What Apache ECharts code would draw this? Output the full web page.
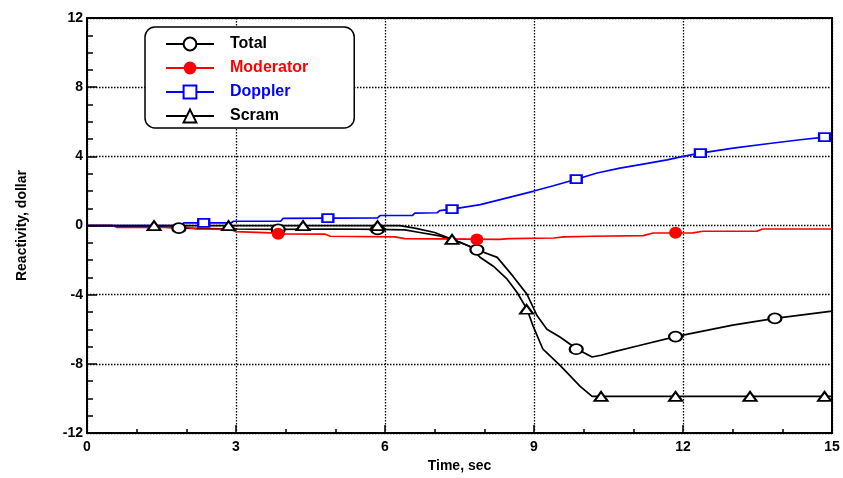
<!DOCTYPE html>
<html>
<head>
<meta charset="utf-8">
<title>Reactivity</title>
<script src="https://cdn.jsdelivr.net/npm/echarts@6/dist/echarts.min.js"></script>
<style>
    html, body { margin: 0; padding: 0; background: #fff; }
    #chart { width: 843px; height: 478px; }
</style>
</head>
<body>
<div id="chart"></div>
<script>
// curves (time in sec, reactivity in dollar)
var totalTime = [0, 0.5, 0.6, 1.5, 1.85, 3.0, 3.85, 5.0, 5.85, 6.4, 6.7, 7.1, 7.5, 7.85, 8.26, 8.58, 8.86, 9.06, 9.26, 9.53, 9.87, 10.17, 10.35, 10.6, 11.1, 11.85, 12.5, 13.0, 13.85, 15];
var totalValue = [0, 0, -0.05, -0.08, -0.15, -0.2, -0.22, -0.2, -0.22, -0.25, -0.4, -0.6, -0.95, -1.4, -1.84, -2.94, -3.98, -5.2, -6.0, -6.46, -7.15, -7.6, -7.5, -7.3, -6.95, -6.42, -6.05, -5.76, -5.37, -4.95];

var moderatorTime = [0, 0.5, 0.6, 2.0, 2.2, 2.9, 3.0, 3.7, 3.9, 4.8, 4.9, 6.2, 6.4, 8.3, 8.5, 9.4, 9.6, 10.2, 11.2, 11.4, 12.2, 12.4, 13.5, 13.6, 15];
var moderatorValue = [0, 0, -0.1, -0.1, -0.2, -0.22, -0.35, -0.42, -0.48, -0.5, -0.62, -0.65, -0.76, -0.8, -0.76, -0.72, -0.66, -0.62, -0.58, -0.43, -0.42, -0.33, -0.32, -0.2, -0.2];

var dopplerTime = [0, 1.9, 1.95, 2.9, 2.95, 3.9, 3.95, 5.85, 5.9, 6.55, 6.6, 7.05, 7.1, 7.35, 7.92, 8.58, 8.98, 9.39, 9.87, 10.27, 10.73, 11.14, 11.68, 12.0, 12.35, 13.01, 13.7, 14.36, 14.85, 15];
var dopplerValue = [0, 0, 0.15, 0.15, 0.25, 0.25, 0.42, 0.44, 0.58, 0.58, 0.72, 0.74, 0.86, 0.95, 1.21, 1.69, 1.98, 2.3, 2.69, 3.04, 3.32, 3.52, 3.8, 4.0, 4.19, 4.48, 4.73, 4.96, 5.11, 5.15];

var scramTime = [0, 6.3, 6.6, 7.0, 7.35, 7.71, 7.92, 8.18, 8.46, 8.66, 8.86, 8.98, 9.18, 9.53, 9.93, 10.17, 15];
var scramValue = [0, 0, -0.15, -0.4, -0.8, -1.2, -1.85, -2.35, -3.1, -3.87, -4.84, -5.8, -7.15, -8.1, -9.3, -9.88, -9.88];

// marker positions along each curve
var totalMarkTime = [1.85, 3.85, 5.85, 7.85, 9.85, 11.85, 13.85];
var totalMarkValue = [-0.15, -0.22, -0.22, -1.4, -7.15, -6.42, -5.37];
var moderatorMarkTime = [3.85, 7.85, 11.85];
var moderatorMarkValue = [-0.48, -0.8, -0.42];
var dopplerMarkTime = [2.35, 4.85, 7.35, 9.85, 12.35, 14.85];
var dopplerMarkValue = [0.15, 0.43, 0.95, 2.69, 4.19, 5.11];
var scramMarkTime = [1.35, 2.85, 4.35, 5.85, 7.35, 8.85, 10.35, 11.85, 13.35, 14.85];
var scramMarkValue = [0, 0, 0, 0, -0.8, -4.84, -9.88, -9.88, -9.88, -9.88];

var xTicks = [0, 3, 6, 9, 12, 15];
var yTicks = [-12, -8, -4, 0, 4, 8, 12];

function zip(xs, ys) {
    var out = [];
    for (var i = 0; i < xs.length; i++) {
        out.push([xs[i], ys[i]]);
    }
    return out;
}

var font = "'Liberation Sans', Arial, sans-serif";

function lineSeries(name, color, symbol, xs, ys) {
    return {
        name: name,
        type: 'line',
        data: zip(xs, ys),
        symbol: symbol,
        showSymbol: false,
        lineStyle: { color: color, width: 1.7 },
        itemStyle: { color: color },
        emphasis: { disabled: true }
    };
}

function markSeries(name, color, symbol, size, xs, ys) {
    var empty = symbol.indexOf('empty') === 0;
    return {
        name: name,
        type: 'scatter',
        data: zip(xs, ys),
        symbol: symbol,
        symbolSize: size,
        itemStyle: {
            color: color,
            borderColor: color,
            borderWidth: empty ? 1.5 : 0,
            opacity: 1
        },
        z: 3,
        emphasis: { disabled: true }
    };
}

var chart = echarts.init(document.getElementById('chart'));

var option = {
    animation: false,
    backgroundColor: '#fff',
    grid: {
        left: 87,
        right: 11,
        top: 18,
        bottom: 44,
        show: true,
        borderColor: '#000',
        borderWidth: 2
    },
    legend: {
        orient: 'vertical',
        left: 145,
        top: 27,
        padding: [9, 46, 4, 20],
        itemWidth: 48,
        itemHeight: 16,
        itemGap: 8,
        backgroundColor: '#fff',
        borderColor: '#000',
        borderWidth: 1.5,
        borderRadius: 10,
        selectedMode: false,
        textStyle: {
            fontFamily: font,
            fontSize: 16,
            fontWeight: 'bold',
            lineHeight: 16,
            padding: [0, 0, 0, 11]
        },
        data: [
            { name: 'Total', textStyle: { color: '#000' } },
            { name: 'Moderator', textStyle: { color: '#ff0000' } },
            { name: 'Doppler', textStyle: { color: '#0000ff' } },
            { name: 'Scram', textStyle: { color: '#000' } }
        ]
    },
    xAxis: {
        type: 'value',
        min: xTicks[0],
        max: xTicks[xTicks.length - 1],
        interval: 3,
        name: 'Time, sec',
        nameLocation: 'middle',
        nameGap: 24,
        nameTextStyle: { fontFamily: font, fontSize: 14, fontWeight: 'bold', color: '#000' },
        axisLine: { onZero: false, lineStyle: { color: '#000', width: 2 } },
        axisTick: { inside: true, length: 8, lineStyle: { color: '#000', width: 1.5 } },
        minorTick: { show: true, splitNumber: 3, length: 4, lineStyle: { color: '#000', width: 1.5 } },
        splitLine: { show: true, lineStyle: { color: '#000', width: 1.3, type: [1.5, 1.5] } },
        axisLabel: { fontFamily: font, fontSize: 14, fontWeight: 'bold', color: '#000', margin: 7 }
    },
    yAxis: {
        type: 'value',
        min: yTicks[0],
        max: yTicks[yTicks.length - 1],
        interval: 4,
        name: 'Reactivity, dollar',
        nameLocation: 'middle',
        nameGap: 58,
        nameTextStyle: { fontFamily: font, fontSize: 14, fontWeight: 'bold', color: '#000' },
        axisLine: { onZero: false, lineStyle: { color: '#000', width: 2 } },
        axisTick: { inside: true, length: 10, lineStyle: { color: '#000', width: 1.5 } },
        minorTick: { show: true, splitNumber: 4, length: 6, lineStyle: { color: '#000', width: 1.5 } },
        splitLine: { show: true, lineStyle: { color: '#000', width: 1.3, type: [1.5, 1.5] } },
        axisLabel: { fontFamily: font, fontSize: 14, fontWeight: 'bold', color: '#000', margin: 4 }
    },
    series: [
        lineSeries('Total', '#000', 'emptyCircle', totalTime, totalValue),
        lineSeries('Moderator', '#ff0000', 'circle', moderatorTime, moderatorValue),
        lineSeries('Doppler', '#0000ff', 'emptyRect', dopplerTime, dopplerValue),
        lineSeries('Scram', '#000', 'emptyTriangle', scramTime, scramValue),
        markSeries('Total', '#000', 'emptyCircle', [13, 10], totalMarkTime, totalMarkValue),
        markSeries('Moderator', '#ff0000', 'circle', [13, 12], moderatorMarkTime, moderatorMarkValue),
        markSeries('Doppler', '#0000ff', 'emptyRect', [11, 8], dopplerMarkTime, dopplerMarkValue),
        markSeries('Scram', '#000', 'emptyTriangle', [13, 9], scramMarkTime, scramMarkValue)
    ]
};

chart.setOption(option);
</script>
</body>
</html>
